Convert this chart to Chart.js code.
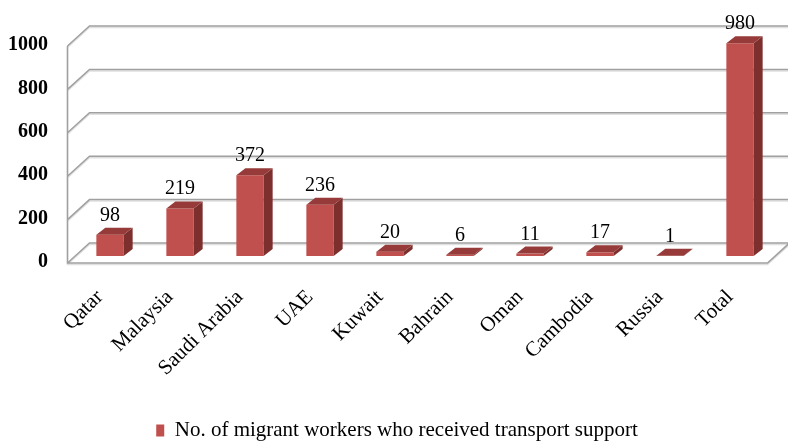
<!DOCTYPE html>
<html>
<head>
<meta charset="utf-8">
<script src="https://cdn.jsdelivr.net/npm/chart.js@4.4.1/dist/chart.umd.min.js"></script>
<style>
html,body{margin:0;padding:0;background:#fff;}
#wrap{width:788px;height:443px;position:relative;}
</style>
</head>
<body>
<div id="wrap"><canvas id="c" width="788" height="443"></canvas></div>
<script>
const categories = ['Qatar','Malaysia','Saudi Arabia','UAE','Kuwait','Bahrain','Oman','Cambodia','Russia','Total'];
const values = [98, 219, 372, 236, 20, 6, 11, 17, 1, 980];
const seriesName = 'No. of migrant workers who received transport support';
const yMin = 0, yMax = 1000, yStep = 200;

const FRONT = {dx: -7.5, dy: 7};
const BACK = {dx: 14.5, dy: -13};
const BAR_DEPTH = {dx: 9, dy: -7};
const GRID = '#a0a0a0';
const SERIF = '"Liberation Serif", "Times New Roman", serif';

const frame3d = {
  id: 'frame3d',
  beforeDatasetsDraw(chart) {
    const {ctx, chartArea: a, scales: {y}} = chart;
    const L = a.left, R = a.right;
    const y0 = y.getPixelForValue(yMin);
    const yTop = y.getPixelForValue(yMax);
    const path = (off) => {
      ctx.beginPath();
      for (let v = yMin; v <= yMax; v += yStep) {
        const p = y.getPixelForValue(v) + off;
        ctx.moveTo(L + FRONT.dx, p + FRONT.dy);
        ctx.lineTo(L + BACK.dx, p + BACK.dy);
        ctx.lineTo(R + BACK.dx + 2, p + BACK.dy);
      }
      ctx.moveTo(L + FRONT.dx, yTop + FRONT.dy + off);
      ctx.lineTo(L + FRONT.dx, y0 + FRONT.dy + off);
      ctx.lineTo(R + FRONT.dx, y0 + FRONT.dy + off);
      ctx.lineTo(R + BACK.dx, y0 + BACK.dy + off);
      ctx.stroke();
    };
    ctx.save();
    ctx.lineWidth = 1.5;
    ctx.strokeStyle = '#e0e0e0';
    path(1.5);
    ctx.strokeStyle = GRID;
    path(0);
    ctx.restore();
  },
  afterDatasetsDraw(chart) {
    const {ctx} = chart;
    const meta = chart.getDatasetMeta(0);
    ctx.save();
    meta.data.forEach((bar, i) => {
      const {x, y, base, width} = bar.getProps(['x','y','base','width'], true);
      const l = x - width / 2, r = x + width / 2;
      ctx.fillStyle = '#7d2f2d';
      ctx.beginPath();
      ctx.moveTo(r, y); ctx.lineTo(r + BAR_DEPTH.dx, y + BAR_DEPTH.dy);
      ctx.lineTo(r + BAR_DEPTH.dx, base + BAR_DEPTH.dy); ctx.lineTo(r, base);
      ctx.closePath(); ctx.fill();
      ctx.fillStyle = '#963b39';
      ctx.beginPath();
      ctx.moveTo(l, y); ctx.lineTo(l + BAR_DEPTH.dx, y + BAR_DEPTH.dy);
      ctx.lineTo(r + BAR_DEPTH.dx, y + BAR_DEPTH.dy); ctx.lineTo(r, y);
      ctx.closePath(); ctx.fill();
      ctx.fillStyle = '#000';
      ctx.font = '20px ' + SERIF;
      ctx.textAlign = 'center';
      ctx.textBaseline = 'alphabetic';
      ctx.fillText(String(values[i]), x, y - 14);
    });
    ctx.restore();
  }
};

new Chart(document.getElementById('c'), {
  type: 'bar',
  data: {
    labels: categories,
    datasets: [{
      label: seriesName,
      data: values,
      backgroundColor: '#c0504d',
      borderWidth: 0,
      barPercentage: 0.39,
      categoryPercentage: 1
    }]
  },
  options: {
    responsive: false,
    animation: false,
    devicePixelRatio: 1,
    layout: {padding: {top: 32, right: 0, left: 6, bottom: -8}},
    plugins: {
      tooltip: {enabled: false},
      legend: {
        position: 'bottom',
        labels: {
          color: '#000',
          font: {family: SERIF, size: 21},
          boxWidth: 8,
          boxHeight: 12,
          padding: 1
        }
      }
    },
    scales: {
      x: {
        grid: {display: false, drawTicks: false},
        border: {display: false},
        ticks: {
          color: '#000',
          font: {family: SERIF, size: 21},
          minRotation: 45, maxRotation: 45,
          autoSkip: false,
          padding: 29,
          labelOffset: -10
        },
        afterFit(s) { s.height = 163; }
      },
      y: {
        min: yMin, max: yMax,
        grid: {display: false, drawTicks: false},
        border: {display: false},
        ticks: {
          stepSize: yStep,
          color: '#000',
          font: {family: SERIF, size: 20, weight: 'bold'},
          padding: 27,
          labelOffset: 6,
          callback: (v) => String(v)
        },
        afterFit(s) { s.width = 69; }
      },
      yRight: {
        position: 'right',
        min: yMin, max: yMax,
        grid: {display: false, drawTicks: false},
        border: {display: false},
        ticks: {display: false},
        afterFit(s) { s.width = 13; }
      }
    }
  },
  plugins: [frame3d]
});
</script>
</body>
</html>
